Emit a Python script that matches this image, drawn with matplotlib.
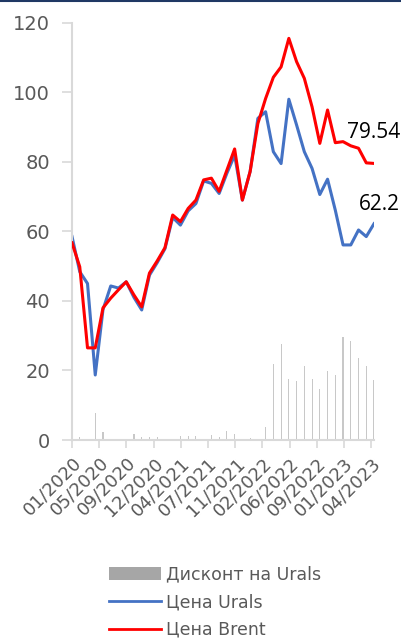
import numpy as np
import matplotlib
matplotlib.use("Agg")
import matplotlib.pyplot as plt
from matplotlib.patches import Patch
from matplotlib.lines import Line2D
from matplotlib.transforms import blended_transform_factory

plt.rcParams['font.family'] = ['DejaVu Sans']

# data (monthly, 01/2020 .. 04/2023)
brent = [56.7, 49.8, 26.5, 26.5, 38.0, 40.8, 43.2, 45.5, 41.7, 38.3,
         48.0, 51.5, 55.3, 64.7, 62.8, 66.6, 69.0, 74.8, 75.3, 71.5,
         77.6, 83.7, 69.0, 77.2, 91.0, 98.2, 104.3, 107.3, 115.5, 108.8,
         104.0, 95.8, 85.3, 94.9, 85.5, 85.8, 84.6, 83.9, 79.7, 79.54]
urals = [58.5, 48.4, 45.0, 18.7, 37.5, 44.3, 43.7, 45.5, 41.0, 37.4,
         47.4, 51.0, 55.0, 64.0, 61.8, 65.9, 68.0, 74.5, 73.8, 70.9,
         76.7, 81.9, 69.0, 77.2, 92.5, 94.4, 82.9, 79.5, 98.0, 90.6,
         82.9, 78.1, 70.6, 75.0, 66.1, 56.1, 56.1, 60.4, 58.5, 62.2]
discount = [0.5, 0.8, -0.6, 7.9, 2.4, -0.6, 0.0, 0.3, 1.7, 0.8,
            1.0, 0.8, -0.6, -0.5, 1.1, 1.1, 1.1, 0.3, 1.4, 0.8,
            2.6, 1.7, 0.2, 0.5, -0.6, 3.7, 21.8, 27.6, 17.5, 17.0,
            21.3, 17.5, 14.7, 19.8, 18.7, 29.6, 28.5, 23.6, 21.3, 17.3]
tick_labels = ["01/2020", "05/2020", "09/2020", "12/2020", "04/2021", "07/2021",
               "11/2021", "02/2022", "06/2022", "09/2022", "01/2023", "04/2023"]

GRID = "#d9d9d9"
TXT = "#595959"

fig = plt.figure(figsize=(4.01, 6.38), dpi=100)
ax = fig.add_axes([0.1796, 0.3103, 0.7531, 0.6541])

x = np.arange(len(brent))
ax.bar(x, discount, width=0.14, color="#c8c8c8", zorder=1)
ax.plot(x, urals, color="#4472c4", lw=2.2, zorder=2, solid_joinstyle="round")
ax.plot(x, brent, color="#ff0000", lw=2.2, zorder=3, solid_joinstyle="round")

# data labels, right-aligned to the figure edge
tr = blended_transform_factory(fig.transFigure, ax.transData)
ax.text(0.997, brent[-1] + 9.0, f"{brent[-1]:.2f}", transform=tr, ha="right", va="center",
        fontsize=15, family="Open Sans", color="black", clip_on=False)
ax.text(0.997, urals[-1] + 5.5, f"{urals[-1]:.1f}", transform=tr, ha="right", va="center",
        fontsize=15, family="Open Sans", color="black", clip_on=False)

ax.set_xlim(0, len(brent) - 1)
ax.set_ylim(0, 120)
ax.set_yticks(np.arange(0, 121, 20))
ax.tick_params(axis="y", colors=GRID, labelcolor=TXT, labelsize=14, length=7, width=1.2, pad=9)

step = (len(brent) - 1) / (len(tick_labels) - 0.9)
ax.set_xticks(np.arange(len(tick_labels)) * step)
ax.set_xticklabels(tick_labels, rotation=45, ha="right", rotation_mode="anchor")
ax.tick_params(axis="x", colors=GRID, labelcolor=TXT, labelsize=13, length=6, width=1.2, pad=4)

for s in ["top", "right"]:
    ax.spines[s].set_visible(False)
for s in ["left", "bottom"]:
    ax.spines[s].set_color(GRID)
    ax.spines[s].set_linewidth(1.5)

handles = [Patch(facecolor="#a6a6a6", edgecolor="none"),
           Line2D([], [], color="#4472c4", lw=2),
           Line2D([], [], color="#ff0000", lw=2)]
labels = ["Дисконт на Urals", "Цена Urals", "Цена Brent"]
fig.legend(handles, labels, loc="upper left", bbox_to_anchor=(0.249, 0.127),
           frameon=False, fontsize=12.5, labelcolor=TXT, handlelength=3.0,
           handleheight=0.75, handletextpad=0.3, labelspacing=0.55, borderpad=0)

fig.add_artist(Line2D([0, 1], [0.999, 0.999], color="#1f3864", lw=1.5, transform=fig.transFigure))

fig.savefig("out.png", dpi=100)
